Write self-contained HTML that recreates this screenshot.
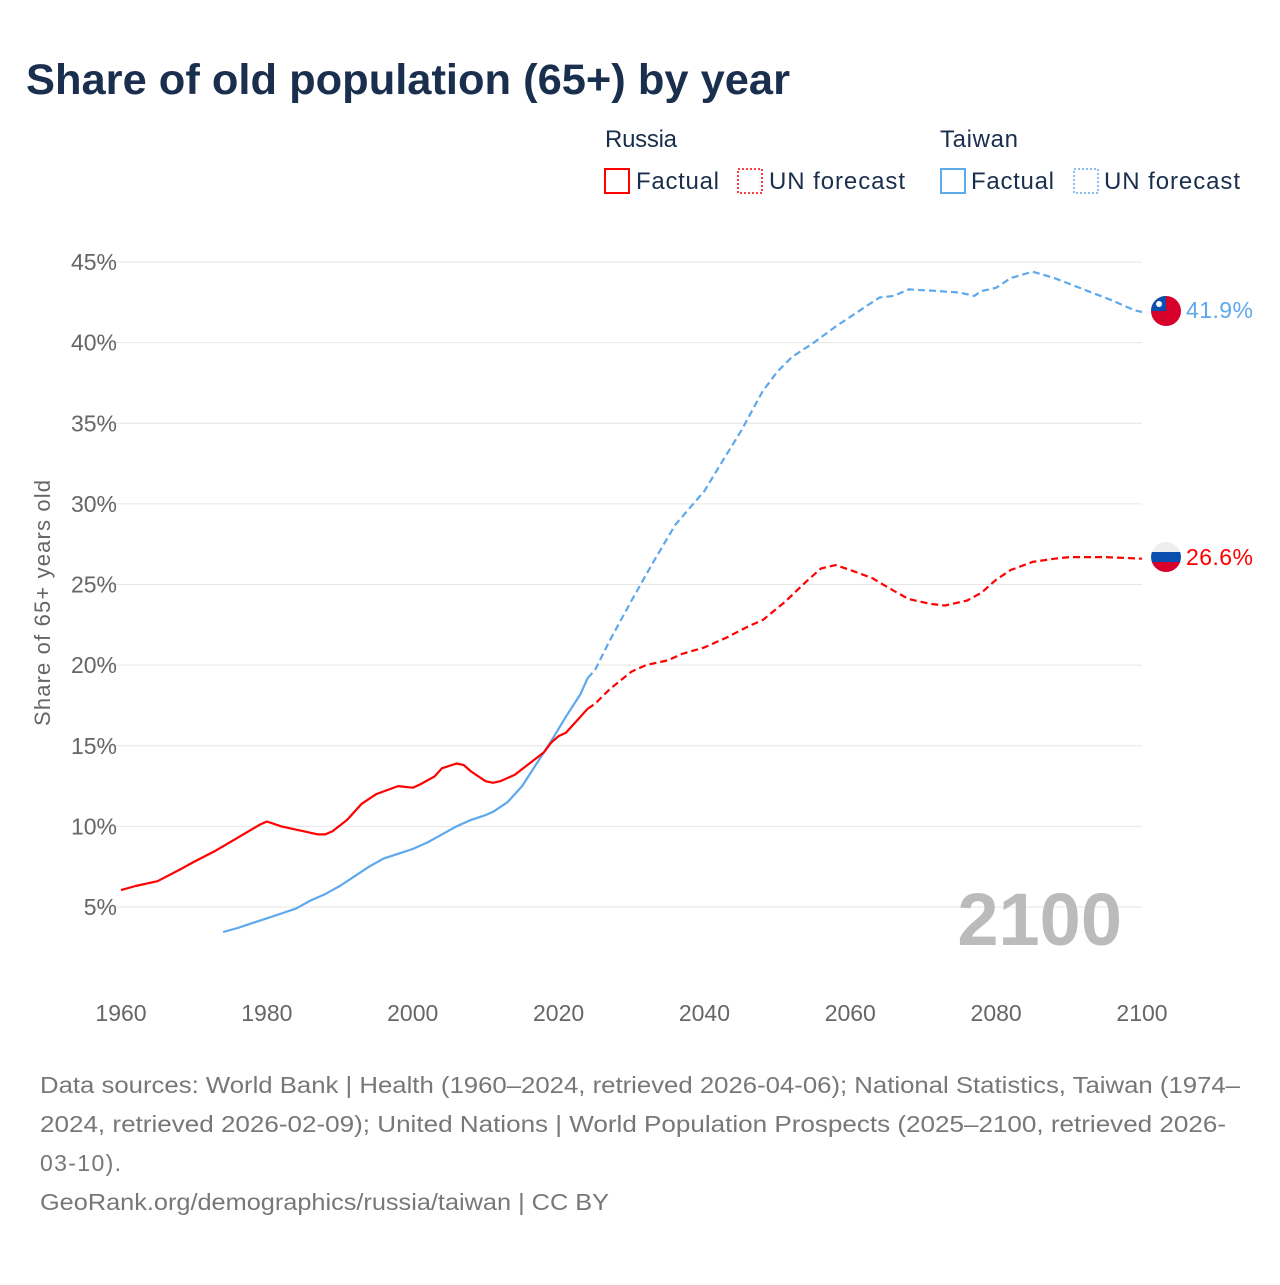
<!DOCTYPE html>
<html><head><meta charset="utf-8"><style>
body{margin:0;background:#fff;font-family:"Liberation Sans",sans-serif}
svg text{font-family:"Liberation Sans",sans-serif}
</style></head><body>
<svg id="chart" width="1280" height="1280" viewBox="0 0 1280 1280" xmlns="http://www.w3.org/2000/svg">
<rect width="1280" height="1280" fill="#fff"/>
<text x="26" y="94" font-size="43" font-weight="bold" fill="#1a2e4d" textLength="764" lengthAdjust="spacingAndGlyphs">Share of old population (65+) by year</text>
<g font-size="24" fill="#1a2e4d">
<text x="605" y="147" fill="#1a2e4d" textLength="72">Russia</text>
<rect x="605" y="169" width="24" height="24" fill="none" stroke="#f00" stroke-width="2"/>
<text x="636" y="189" fill="#1a2e4d" textLength="83">Factual</text>
<rect x="738" y="169" width="24" height="24" fill="none" stroke="#f00" stroke-width="1.5" stroke-dasharray="2,2"/>
<text x="769" y="189" fill="#1a2e4d" textLength="136">UN forecast</text>
<text x="940" y="147" fill="#1a2e4d" textLength="78">Taiwan</text>
<rect x="941" y="169" width="24" height="24" fill="none" stroke="#5ea8ec" stroke-width="2"/>
<text x="971" y="189" fill="#1a2e4d" textLength="83">Factual</text>
<rect x="1074" y="169" width="24" height="24" fill="none" stroke="#5ea8ec" stroke-width="1.5" stroke-dasharray="2,2"/>
<text x="1104" y="189" fill="#1a2e4d" textLength="136">UN forecast</text>
</g>
<g id="grid"></g>
<text transform="translate(50,603) rotate(-90)" text-anchor="middle" font-size="22" fill="#666" textLength="246">Share of 65+ years old</text>
<text x="1122" y="945" text-anchor="end" font-size="74" font-weight="bold" fill="#bbb">2100</text>
<g id="series"></g>
<g>
<clipPath id="c1"><circle cx="1166" cy="311" r="15"/></clipPath>
<g clip-path="url(#c1)"><rect x="1151" y="296" width="30" height="30" fill="#d7002a"/><rect x="1151" y="296" width="15" height="15" fill="#0a4fb0"/><circle cx="1159" cy="304" r="3" fill="#fff"/></g>
</g>
<g>
<clipPath id="c2"><circle cx="1166" cy="557" r="15"/></clipPath>
<g clip-path="url(#c2)"><rect x="1151" y="542" width="30" height="10" fill="#eee"/><rect x="1151" y="552" width="30" height="10" fill="#0a4fb0"/><rect x="1151" y="562" width="30" height="10" fill="#d7002a"/></g>
</g>
<text x="1186" y="318" font-size="23" fill="#5ea8ec" textLength="67">41.9%</text>
<text x="1186" y="565" font-size="23" fill="#f00" textLength="67">26.6%</text>
<g font-size="23" fill="#777">
<text x="40" y="1093" textLength="1200" lengthAdjust="spacingAndGlyphs">Data sources: World Bank | Health (1960–2024, retrieved 2026-04-06); National Statistics, Taiwan (1974–</text>
<text x="40" y="1132" textLength="1186" lengthAdjust="spacingAndGlyphs">2024, retrieved 2026-02-09); United Nations | World Population Prospects (2025–2100, retrieved 2026-</text>
<text x="40" y="1171" textLength="81">03-10).</text>
<text x="40" y="1210" textLength="569" lengthAdjust="spacingAndGlyphs">GeoRank.org/demographics/russia/taiwan | CC BY</text>
</g>
</svg>
<script>
const yTicks=[5,10,15,20,25,30,35,40,45];
const xTicks=[1960,1980,2000,2020,2040,2060,2080,2100];
const ruFactYears=[1960,1962,1965,1968,1970,1973,1976,1979,1980,1982,1985,1987,1988,1989,1991,1993,1995,1998,2000,2001,2003,2004,2006,2007,2008,2010,2011,2012,2014,2016,2018,2019,2020,2021,2022,2023,2024];
const ruFactVals=[6.05,6.3,6.6,7.3,7.8,8.5,9.3,10.1,10.3,10.0,9.7,9.5,9.5,9.7,10.4,11.4,12.0,12.5,12.4,12.6,13.1,13.6,13.9,13.8,13.4,12.8,12.7,12.8,13.2,13.9,14.6,15.2,15.6,15.8,16.3,16.8,17.3];
const ruFcYears=[2024,2025,2027,2030,2032,2035,2037,2040,2043,2046,2048,2051,2054,2056,2058,2060,2063,2066,2068,2071,2073,2076,2078,2080,2082,2085,2088,2090,2095,2100];
const ruFcVals=[17.3,17.6,18.5,19.6,20.0,20.3,20.7,21.1,21.7,22.4,22.8,23.9,25.2,26.0,26.2,25.9,25.4,24.6,24.1,23.8,23.7,24.0,24.5,25.3,25.9,26.4,26.6,26.7,26.7,26.6];
const twFactYears=[1974,1976,1978,1980,1982,1984,1986,1988,1990,1992,1994,1996,1998,2000,2002,2004,2006,2008,2010,2011,2013,2015,2017,2019,2021,2023,2024];
const twFactVals=[3.45,3.7,4.0,4.3,4.6,4.9,5.4,5.8,6.3,6.9,7.5,8.0,8.3,8.6,9.0,9.5,10.0,10.4,10.7,10.9,11.5,12.5,13.9,15.3,16.8,18.2,19.2];
const twFcYears=[2024,2025,2027,2030,2033,2036,2040,2042,2045,2048,2050,2052,2055,2058,2062,2064,2066,2068,2072,2075,2077,2078,2080,2082,2085,2088,2092,2096,2099,2100];
const twFcVals=[19.2,19.7,21.5,24.0,26.4,28.7,30.8,32.3,34.5,37.0,38.2,39.1,40.0,41.0,42.2,42.8,42.9,43.3,43.2,43.1,42.9,43.2,43.4,44.0,44.4,44.0,43.3,42.6,42.0,41.9];
const NS='http://www.w3.org/2000/svg';
const X=y=>121+(y-1960)*(1142-121)/140;
const Y=v=>907-(v-5)*645/40;
const grid=document.getElementById('grid');
yTicks.forEach(t=>{
 const l=document.createElementNS(NS,'line');
 
 
 l.setAttribute('x1',95);l.setAttribute('x2',1142);l.setAttribute('y1',Y(t));l.setAttribute('y2',Y(t));
 l.setAttribute('stroke','#e6e6e6');l.setAttribute('stroke-width',1);grid.appendChild(l);
 const tx=document.createElementNS(NS,'text');
 
 
 tx.setAttribute('x',117);tx.setAttribute('y',Y(t)+8);tx.setAttribute('text-anchor','end');
 tx.setAttribute('font-size','23');tx.setAttribute('fill','#666');tx.textContent=t+'%';grid.appendChild(tx);
});
xTicks.forEach(t=>{
 const tx=document.createElementNS(NS,'text');
 
 
 tx.setAttribute('x',X(t));tx.setAttribute('y',1021);tx.setAttribute('text-anchor','middle');
 tx.setAttribute('font-size','23');tx.setAttribute('fill','#666');tx.textContent=t;grid.appendChild(tx);
});
const ser=document.getElementById('series');
function line(xs,vs,color,dash,name){
 const p=document.createElementNS(NS,'path');
 
 
 p.setAttribute('d',xs.map((x,i)=>(i?'L':'M')+X(x).toFixed(1)+','+Y(vs[i]).toFixed(1)).join(''));
 p.setAttribute('fill','none');p.setAttribute('stroke',color);p.setAttribute('stroke-width',2.2);
 p.setAttribute('stroke-linejoin','round');
 if(dash)p.setAttribute('stroke-dasharray','7,4');
 ser.appendChild(p);
}
line(twFactYears,twFactVals,'#5ea8ec',false,'taiwan-factual-line');
line(twFcYears,twFcVals,'#5ea8ec',true,'taiwan-forecast-line');
line(ruFactYears,ruFactVals,'#f00',false,'russia-factual-line');
line(ruFcYears,ruFcVals,'#f00',true,'russia-forecast-line');
</script>
</body></html>
